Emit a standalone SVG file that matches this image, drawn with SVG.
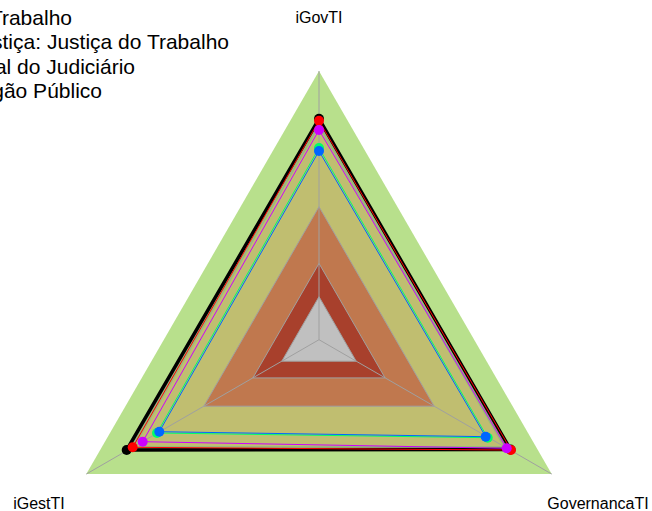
<svg xmlns="http://www.w3.org/2000/svg" width="652" height="511" viewBox="0 0 652 511">
<style>
text{font-family:"Liberation Sans",Arial,sans-serif;fill:#000}
.leg{font-size:21px}
.ax{font-size:16px}
.grid{fill:none;stroke:#a0a0a0;stroke-width:1}
.series{fill:none;stroke-linejoin:miter}
</style>
<rect width="652" height="511" fill="#fff"/>
<g id="bands">
<polygon points="319,71 86.3,474.05 551.7,474.05" fill="#b8e08c"/>
<polygon points="319,118.8 126.7,450 510.5,449.5" fill="#5a5a5a" fill-opacity="0.3"/>
<polygon points="319,127.4 135.2,445.9 502.8,445.9" fill="#c0be70"/>
<polygon points="319,206.7 203.8,406.2 434.2,406.2" fill="#c0784e"/>
<polygon points="319,263.4 252.9,377.9 385.1,377.9" fill="#a8402c"/>
<polygon points="319,296.7 281.8,361.2 356.2,361.2" fill="#c0c0c0"/>
</g>
<g id="grid">
<polygon class="grid" points="319,206.7 203.8,406.2 434.2,406.2"/>
<polygon class="grid" points="319,263.4 252.9,377.9 385.1,377.9"/>
<polygon class="grid" points="319,296.7 281.8,361.2 356.2,361.2"/>
<line class="grid" x1="319" y1="339.7" x2="319" y2="71" stroke="#c8c8c8"/>
<line class="grid" x1="319" y1="339.7" x2="86.3" y2="474.05" stroke="#c8c8c8"/>
<line class="grid" x1="319" y1="339.7" x2="551.7" y2="474.05" stroke="#c8c8c8"/>
</g>
<g id="connectors">
<g id="series-black">
<polygon class="series" points="319,118.8 126.7,450 510.5,449.5" stroke="#000" stroke-width="3.5"/>
<circle cx="126.7" cy="450" r="5" fill="#000"/>
<circle cx="319" cy="118.8" r="5" fill="#000"/>
<circle cx="510.5" cy="449.5" r="5" fill="#000"/>
</g>
<g id="series-red">
<polygon class="series" points="319,120.7 132.7,447.3 511,450" stroke="#ff0000" stroke-width="1"/>
<circle cx="319" cy="120.7" r="5" fill="#ff0000"/>
<circle cx="132.7" cy="447.3" r="5" fill="#ff0000"/>
<circle cx="511" cy="450" r="5" fill="#ff0000"/>
</g>
<g id="series-magenta">
<polygon class="series" points="319,130 142.7,441.7 506.7,448.3" stroke="#cc00ff" stroke-width="1"/>
<circle cx="319" cy="130" r="5" fill="#cc00ff"/>
<circle cx="142.7" cy="441.7" r="5" fill="#cc00ff"/>
<circle cx="506.7" cy="448.3" r="5" fill="#cc00ff"/>
</g>
<g id="series-green">
<polygon class="series" points="319,148 157,433 487.7,437.7" stroke="#00ff66" stroke-width="1"/>
<circle cx="319" cy="148" r="5" fill="#00ff66"/>
<circle cx="157" cy="433" r="5" fill="#00ff66"/>
<circle cx="487.7" cy="437.7" r="5" fill="#00ff66"/>
</g>
<g id="series-blue">
<polygon class="series" points="319,151 159.3,431.7 485.7,436.7" stroke="#0066ff" stroke-width="1"/>
<circle cx="319" cy="151" r="5" fill="#0066ff"/>
<circle cx="159.3" cy="431.7" r="5" fill="#0066ff"/>
<circle cx="485.7" cy="436.7" r="5" fill="#0066ff"/>
</g>
</g>
<g id="labels">
<text class="ax" x="319" y="23" text-anchor="middle">iGovTI</text>
<text class="ax" x="39" y="509" text-anchor="middle">iGestTI</text>
<text class="ax" x="598" y="509" text-anchor="middle">GovernancaTI</text>
</g>
<g id="legend">
<text class="leg" x="72" y="24.5" text-anchor="end">Trabalho</text>
<text class="leg" x="229" y="49" text-anchor="end">stiça: Justiça do Trabalho</text>
<text class="leg" x="135" y="73.5" text-anchor="end">al do Judiciário</text>
<text class="leg" x="102" y="98" text-anchor="end">gão Público</text>
</g>
</svg>
